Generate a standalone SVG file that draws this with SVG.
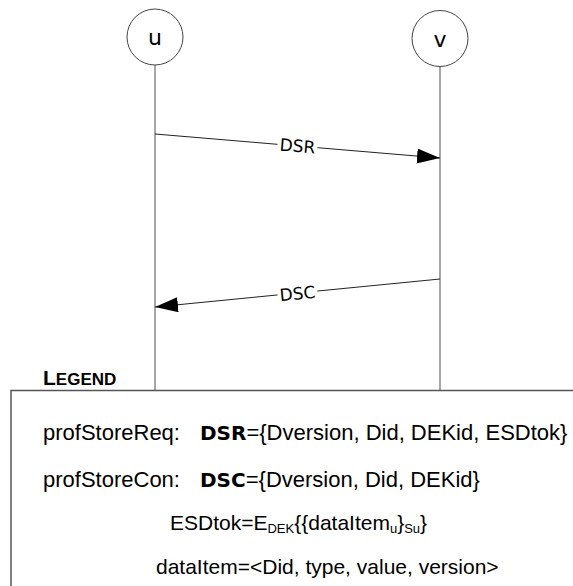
<svg xmlns="http://www.w3.org/2000/svg" width="573" height="586" viewBox="0 0 573 586">
<defs>
<marker id="ah" viewBox="0 0 23 15" refX="23" refY="7.5" markerWidth="23" markerHeight="15" markerUnits="userSpaceOnUse" orient="auto">
<path d="M0,0 L23,7.5 L0,15 Z" fill="#000"/>
</marker>
</defs>
<style>
.node circle{fill:#fff;stroke:#444;stroke-width:1}
.node text{font-family:"DejaVu Sans",sans-serif;font-size:22px;text-anchor:middle;fill:#000}
.life{stroke:#777;stroke-width:1.3;fill:none}
.msg{stroke:#222;stroke-width:1;fill:none;marker-end:url(#ah)}
.lbl{font-family:"DejaVu Sans",sans-serif;font-size:17px;text-anchor:middle;fill:#000}
.lg{font-family:"Liberation Sans",Arial,sans-serif;font-size:22px;fill:#000}
.lg2{font-family:"Liberation Sans",Arial,sans-serif;font-size:21px;fill:#000}
.b{font-family:"DejaVu Sans",sans-serif;font-weight:bold;font-size:20px}
.sub{font-size:13px}
</style>
<rect width="573" height="586" fill="#fff"/>
<g id="lifelines">
<line class="life" x1="155" y1="65" x2="155" y2="390"/>
<line class="life" x1="440" y1="67" x2="440" y2="390"/>
</g>
<g id="node-u" class="node">
<circle cx="155" cy="37" r="28"/>
<text x="155" y="45">u</text>
</g>
<g id="node-v" class="node">
<circle cx="440" cy="38.5" r="28"/>
<text x="440" y="46.5">v</text>
</g>
<g id="connectors">
<line class="msg" x1="155" y1="134" x2="440" y2="158"/>
<g transform="translate(297.5,146) rotate(4.8)">
<rect x="-20" y="-9" width="40" height="17" fill="#fff"/>
<text class="lbl" x="0" y="6">DSR</text>
</g>
<line class="msg" x1="440" y1="279" x2="155" y2="307"/>
<g transform="translate(297.5,293.5) rotate(-5.6)">
<rect x="-20" y="-9" width="40" height="17" fill="#fff"/>
<text class="lbl" x="0" y="6">DSC</text>
</g>
</g>
<g id="legend">
<path d="M573,390.5 H11 V586" fill="none" stroke="#555" stroke-width="1.5"/>
<text x="43" y="385" font-family="'Liberation Sans',Arial,sans-serif" font-weight="bold" font-size="21">L<tspan font-size="17">EGEND</tspan></text>
<text class="lg" x="43" y="440">profStoreReq:<tspan x="200" class="b">DSR</tspan>={Dversion, Did, DEKid, ESDtok}</text>
<text class="lg" x="43" y="487">profStoreCon:<tspan x="200" class="b">DSC</tspan>={Dversion, Did, DEKid}</text>
<text class="lg2" x="170" y="530">ESDtok=E<tspan class="sub" dy="3">DEK</tspan><tspan dy="-3">{{dataItem</tspan><tspan class="sub" dy="3">u</tspan><tspan dy="-3">}</tspan><tspan class="sub" dy="3">Su</tspan><tspan dy="-3">}</tspan></text>
<text class="lg2" x="156" y="574">dataItem=&lt;Did, type, value, version&gt;</text>
</g>
</svg>
